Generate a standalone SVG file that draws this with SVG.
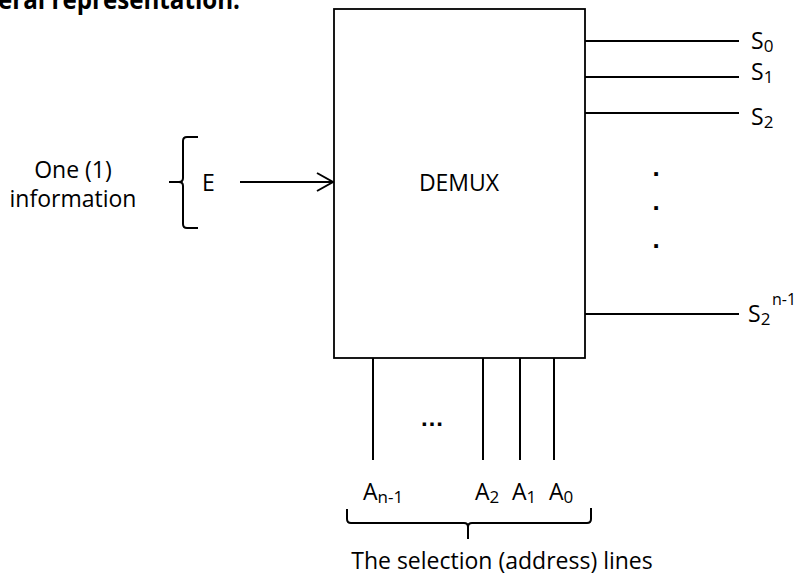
<svg xmlns="http://www.w3.org/2000/svg" width="797" height="578" viewBox="0 0 797 578">
  <defs>
    <style>
      .t { font-family: "Open Sans", "Noto Sans", "Liberation Sans", sans-serif; font-size: 23px; fill: #000; }
      .sub { font-size: 17px; }
      .sup { font-size: 16px; }
      .title { font-family: "Open Sans", "Noto Sans", "Liberation Sans", sans-serif; font-size: 26px; font-weight: bold; fill: #000; }
      .dots { font-family: "Liberation Sans", Arial, sans-serif; font-weight: bold; fill: #000; }
      .wire { stroke: #000; stroke-width: 2; fill: none; }
      .brace { stroke: #000; stroke-width: 2; fill: none; stroke-linejoin: round; }
      .box { fill: #fff; stroke: #000; stroke-width: 1.8; }
    </style>
    <marker id="open-arrow" viewBox="0 0 20 20" refX="17" refY="10" markerWidth="20" markerHeight="20" markerUnits="userSpaceOnUse" orient="auto">
      <path d="M1,1 L17,10 L1,19" fill="none" stroke="#000" stroke-width="2"/>
    </marker>
  </defs>

  <rect width="797" height="578" fill="#fff"/>

  <!-- heading, clipped by the top edge -->
  <text class="title" x="-2" y="9" textLength="242" lengthAdjust="spacingAndGlyphs">eral representation:</text>

  <!-- wires -->
  <g id="connectors">
    <line class="wire" x1="240" y1="182" x2="333" y2="182" marker-end="url(#open-arrow)"/>
    <line class="wire" x1="585" y1="41" x2="739" y2="41"/>
    <line class="wire" x1="585" y1="77" x2="739" y2="77"/>
    <line class="wire" x1="585" y1="113" x2="739" y2="113"/>
    <line class="wire" x1="585" y1="314" x2="739" y2="314"/>
    <line class="wire" x1="373" y1="358" x2="373" y2="460"/>
    <line class="wire" x1="483" y1="358" x2="483" y2="460"/>
    <line class="wire" x1="520" y1="358" x2="520" y2="460"/>
    <line class="wire" x1="554" y1="358" x2="554" y2="460"/>
  </g>

  <!-- demultiplexer block -->
  <g id="demux">
    <rect class="box" x="334" y="9" width="251" height="349"/>
    <text class="t" x="459" y="191" text-anchor="middle">DEMUX</text>
  </g>

  <!-- data input -->
  <g id="input">
    <text class="t" x="73" y="178" text-anchor="middle">One (1)</text>
    <text class="t" x="73" y="207" text-anchor="middle">information</text>
    <path class="brace" d="M198,137 H187 Q183,137 183,141 V178 Q183,182 179,182 H169 M179,182 Q183,182 183,186 V224 Q183,228 187,228 H198"/>
    <text class="t" x="202" y="191">E</text>
  </g>

  <!-- outputs -->
  <g id="outputs">
    <text class="t" x="751" y="49">S<tspan class="sub" dy="3">0</tspan></text>
    <text class="t" x="751" y="80">S<tspan class="sub" dy="3">1</tspan></text>
    <text class="t" x="751" y="125">S<tspan class="sub" dy="3">2</tspan></text>
    <text class="dots" x="656" y="176" font-size="26" text-anchor="middle">.</text>
    <text class="dots" x="656" y="210" font-size="26" text-anchor="middle">.</text>
    <text class="dots" x="656" y="248" font-size="26" text-anchor="middle">.</text>
    <text class="t" x="748" y="322">S<tspan class="sub" dy="3">2</tspan><tspan class="sup" x="772" y="305">n-1</tspan></text>
  </g>

  <!-- select inputs -->
  <g id="address">
    <text class="dots" x="432" y="426" font-size="24" text-anchor="middle">…</text>
    <text class="t" x="363" y="500">A<tspan class="sub" dy="3">n-1</tspan></text>
    <text class="t" x="475" y="500">A<tspan class="sub" dy="3">2</tspan></text>
    <text class="t" x="512" y="500">A<tspan class="sub" dy="3">1</tspan></text>
    <text class="t" x="549" y="500">A<tspan class="sub" dy="3">0</tspan></text>
    <path class="brace" d="M347,509 V519 Q347,523 351,523 H464 Q468,523 468,527 V539 M468,527 Q468,523 472,523 H587 Q591,523 591,519 V508"/>
    <text class="t" x="502" y="569" text-anchor="middle">The selection (address) lines</text>
  </g>
</svg>
